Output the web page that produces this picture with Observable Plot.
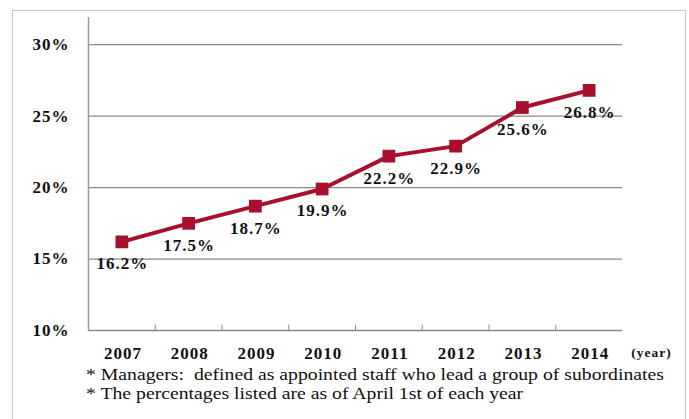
<!DOCTYPE html>
<html>
<head>
<meta charset="utf-8">
<script src="https://cdn.jsdelivr.net/npm/d3@7"></script>
<script src="https://cdn.jsdelivr.net/npm/@observablehq/plot@0.6"></script>
<style>
  html, body { margin: 0; padding: 0; background: #fff; }
  #wrap { position: relative; width: 689px; height: 419px; overflow: hidden; font-family: 'Liberation Serif', 'DejaVu Serif', serif; }
  #frame { position: absolute; left: 12px; top: 10px; width: 674px; height: 430px; border: 1.5px solid #c8c8c8; box-sizing: border-box; }
  #chart { position: absolute; left: 0; top: 0; }
  .note { position: absolute; left: 86px; font-size: 17px; color: #111; white-space: nowrap; line-height: 18px; font-family: 'Liberation Serif', 'DejaVu Serif', serif; transform: scaleX(1.16); transform-origin: 0 0; }
  #chart svg text { font-family: 'Liberation Serif', 'DejaVu Serif', serif; letter-spacing: 1px; }
</style>
</head>
<body>
<div id="wrap">
  <div id="frame"></div>
  <div id="chart"></div>
  <div class="note" id="n1" style="top:366px">* Managers:&nbsp; defined as appointed staff who lead a group of subordinates</div>
  <div class="note" id="n2" style="top:385px">* The percentages listed are as of April 1st of each year</div>
</div>
<script>
const years = [2007, 2008, 2009, 2010, 2011, 2012, 2013, 2014];
const values = [16.2, 17.5, 18.7, 19.9, 22.2, 22.9, 25.6, 26.8];
const yTicks = [10, 15, 20, 25, 30];
const xUnitLabel = "(year)";

const data = years.map((year, i) => ({year, value: values[i]}));
const xDomain = [years[0] - 0.5, years[years.length - 1] + 0.5];
const yDomain = [10, 31.9];
const boundaries = years.slice(1).map(y => y - 0.5);
const gridTicks = yTicks.slice(1);
const red = "#a8102e";
const font = "'Liberation Serif', 'DejaVu Serif', serif";

const chart = Plot.plot({
  width: 689,
  height: 362,
  marginTop: 0, marginRight: 0, marginBottom: 0, marginLeft: 0,
  style: {fontFamily: font, background: "transparent", overflow: "visible"},
  x: {domain: xDomain, range: [88, 622], axis: null},
  y: {domain: yDomain, range: [330, 17], axis: null},
  marks: [
    Plot.ruleY(gridTicks, {y: d => d, x1: xDomain[0], x2: xDomain[1], stroke: "#8a8a8a", strokeWidth: 1.2}),
    Plot.ruleY([yDomain[0]], {x1: xDomain[0], x2: xDomain[1], stroke: "#8a8a8a", strokeWidth: 1.5}),
    Plot.ruleX([xDomain[0]], {y1: yDomain[0], y2: yDomain[1], stroke: "#9a9a9a", strokeWidth: 1.5}),
    Plot.ruleX(boundaries, {x: d => d, y1: yDomain[0], y2: yDomain[0] + 0.38, stroke: "#8a8a8a", strokeWidth: 1}),
    Plot.text(yTicks, {x: xDomain[0], y: d => d, text: d => d + "%", textAnchor: "end", dx: -19, fontSize: 17, fontWeight: "bold", fill: "#111"}),
    Plot.text(years, {x: d => d, y: yDomain[0], text: d => String(d), dy: 23, dx: 1, fontSize: 17, fontWeight: "bold", fill: "#111"}),
    Plot.text([xUnitLabel], {x: xDomain[1], y: yDomain[0], text: d => d, dx: 29, dy: 22, fontSize: 13.5, fontWeight: "bold", fill: "#111"}),
    Plot.line(data, {x: "year", y: "value", stroke: red, strokeWidth: 4}),
    Plot.dot(data, {x: "year", y: "value", symbol: "square", r: 7.2, fill: red, stroke: "none"}),
    Plot.text(data, {x: "year", y: "value", text: d => d.value.toFixed(1) + "%", dy: 22, dx: 0.5, fontSize: 17, fontWeight: "bold", fill: "#111"})
  ]
});
document.getElementById("chart").appendChild(chart);
</script>
</body>
</html>
